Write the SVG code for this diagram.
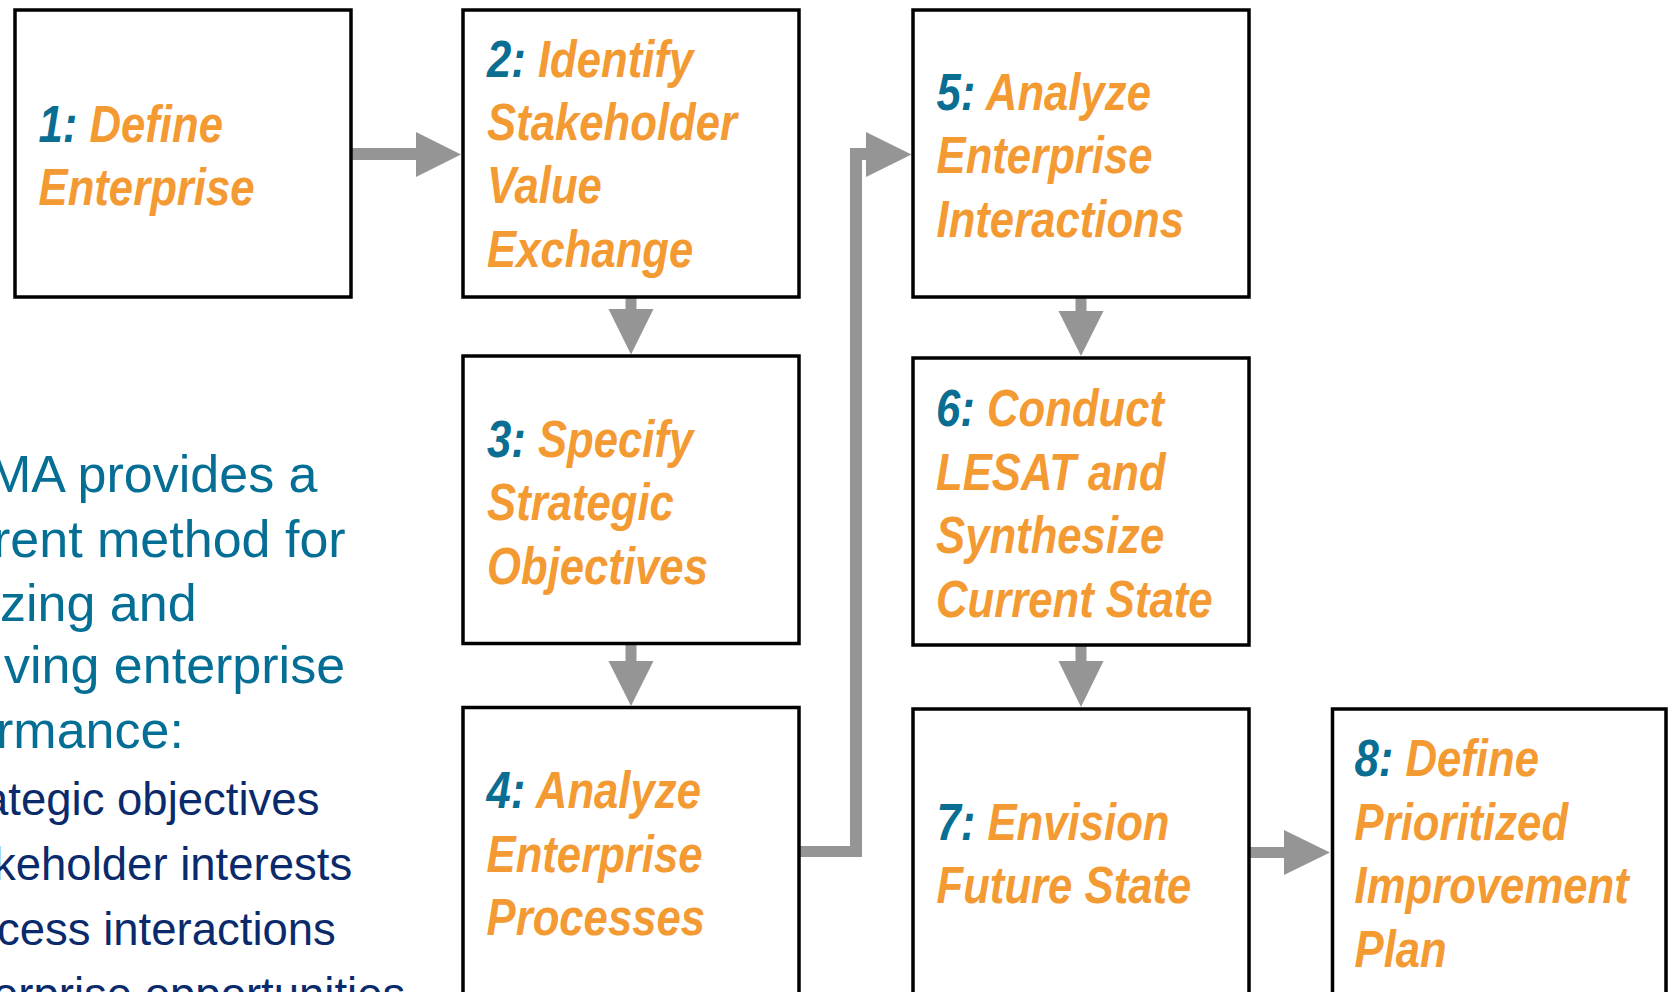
<svg xmlns="http://www.w3.org/2000/svg" width="1668" height="992" viewBox="0 0 1668 992">
<style>
.box{fill:#fff;stroke:#000;stroke-width:3.5}
.lbl{font-family:"Liberation Sans",Arial,sans-serif;font-weight:bold;font-style:italic;font-size:52px;fill:#F39A33}
.num{fill:#0A6E92}
.conn{fill:#959595}
.intro{font-family:"Liberation Sans",Arial,sans-serif;font-size:52px;fill:#046E95}
.bul{font-family:"Liberation Sans",Arial,sans-serif;font-size:45.5px;fill:#0A2A6C}
</style>
<rect width="1668" height="992" fill="#fff"/>
<g id="intro-text">
<text class="intro"><tspan x="-12" y="492">MA provides a</tspan><tspan x="-7" y="557">rent method for</tspan><tspan x="0" y="621">zing and</tspan><tspan x="4" y="683">ving enterprise</tspan><tspan x="-4" y="748">rmance:</tspan></text>
<text class="bul"><tspan x="-17" y="815">ategic objectives</tspan><tspan x="-7" y="880">keholder interests</tspan><tspan x="-3" y="945">cess interactions</tspan><tspan x="-7" y="1010">erprise opportunities</tspan></text>
</g>
<g id="connectors">
<path class="conn" d="M352 148 H416 V132 L461 154.5 L416 177 V160 H352 Z"/>
<path class="conn" d="M625.5 298 H636.5 V309 H653.5 L631 354.5 L608.5 309 H625.5 Z"/>
<path class="conn" d="M625.5 645 H636.5 V661 H653.5 L631 706 L608.5 661 H625.5 Z"/>
<path class="conn" d="M800 846 H850 V148 H866 V132 L911.5 154.5 L866 177 V160 H862 V857 H800 Z"/>
<path class="conn" d="M1075.5 298 H1086.5 V311 H1103.5 L1081 356 L1058.5 311 H1075.5 Z"/>
<path class="conn" d="M1075.5 646 H1086.5 V661 H1103.5 L1081 707 L1058.5 661 H1075.5 Z"/>
<path class="conn" d="M1250 847 H1284 V830 L1330 852.5 L1284 875 V858 H1250 Z"/>
</g>
<g id="node1">
<rect class="box" x="15" y="10" width="336" height="287"/>
<text class="lbl" transform="translate(38.5 142) scale(0.84 1)"><tspan x="0"><tspan class="num">1:</tspan> Define</tspan><tspan x="0" dy="63">Enterprise</tspan></text>
</g>
<g id="node2">
<rect class="box" x="463" y="10" width="336" height="287"/>
<text class="lbl" transform="translate(487 77) scale(0.84 1)"><tspan x="0"><tspan class="num">2:</tspan> Identify</tspan><tspan x="0" dy="63">Stakeholder</tspan><tspan x="0" dy="63">Value</tspan><tspan x="0" dy="64">Exchange</tspan></text>
</g>
<g id="node3">
<rect class="box" x="463" y="356" width="336" height="287.5"/>
<text class="lbl" transform="translate(487 457) scale(0.84 1)"><tspan x="0"><tspan class="num">3:</tspan> Specify</tspan><tspan x="0" dy="63">Strategic</tspan><tspan x="0" dy="64">Objectives</tspan></text>
</g>
<g id="node4">
<rect class="box" x="463" y="707.5" width="336" height="400"/>
<text class="lbl" transform="translate(486.5 808) scale(0.84 1)"><tspan x="0"><tspan class="num">4:</tspan> Analyze</tspan><tspan x="0" dy="64">Enterprise</tspan><tspan x="0" dy="63">Processes</tspan></text>
</g>
<g id="node5">
<rect class="box" x="913" y="10" width="336" height="287"/>
<text class="lbl" transform="translate(936.5 110) scale(0.84 1)"><tspan x="0"><tspan class="num">5:</tspan> Analyze</tspan><tspan x="0" dy="63">Enterprise</tspan><tspan x="0" dy="64">Interactions</tspan></text>
</g>
<g id="node6">
<rect class="box" x="913" y="358" width="336" height="287"/>
<text class="lbl" transform="translate(936 426) scale(0.84 1)"><tspan x="0"><tspan class="num">6:</tspan> Conduct</tspan><tspan x="0" dy="64">LESAT and</tspan><tspan x="0" dy="63">Synthesize</tspan><tspan x="0" dy="64">Current State</tspan></text>
</g>
<g id="node7">
<rect class="box" x="913" y="709" width="336" height="400"/>
<text class="lbl" transform="translate(936.5 840) scale(0.84 1)"><tspan x="0"><tspan class="num">7:</tspan> Envision</tspan><tspan x="0" dy="63">Future State</tspan></text>
</g>
<g id="node8">
<rect class="box" x="1332.5" y="709" width="333.5" height="400"/>
<text class="lbl" transform="translate(1354.5 776) scale(0.84 1)"><tspan x="0"><tspan class="num">8:</tspan> Define</tspan><tspan x="0" dy="64">Prioritized</tspan><tspan x="0" dy="63">Improvement</tspan><tspan x="0" dy="64">Plan</tspan></text>
</g>
</svg>
